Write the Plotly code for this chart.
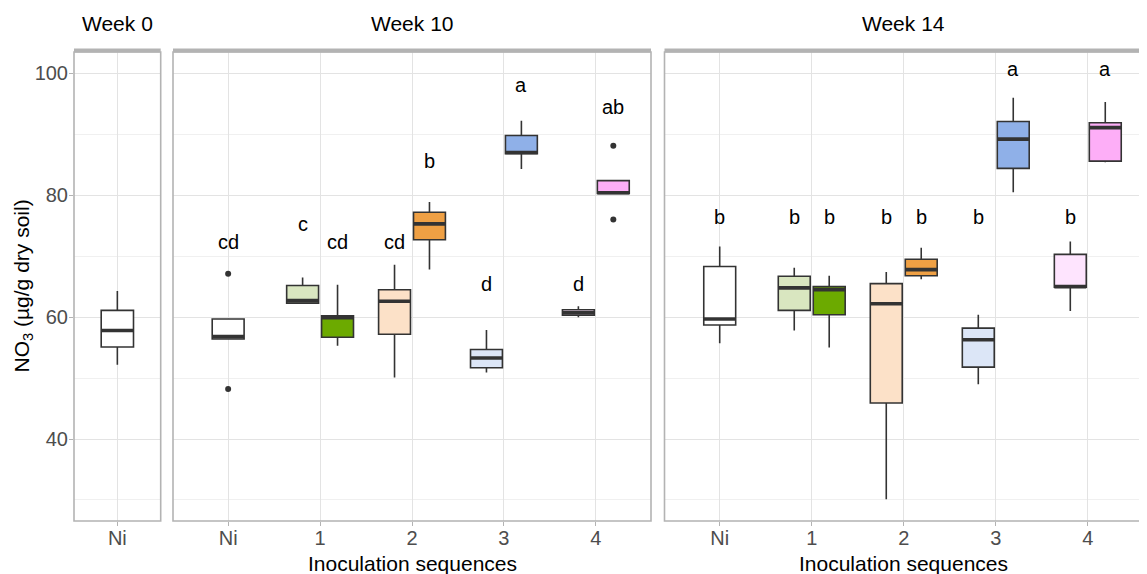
import plotly.graph_objects as go

# ---------------- data ----------------
categories = ["Ni", "1", "2", "3", "4"]
panels = ["Week 0", "Week 10", "Week 14"]

# Week 0 (control only)
w0_ids = ["Ni"]
w0_lower = [52.2]
w0_q1 = [55.1]
w0_med = [57.8]
w0_q3 = [61.1]
w0_upper = [64.3]

# Boxes for weeks 10 and 14: Ni, then two sequences (A light, B dark) per category
box_ids = ["Ni", "1A", "1B", "2A", "2B", "3A", "3B", "4A", "4B"]

w10_lower = [56.4, 62.2, 55.3, 50.1, 67.8, 50.9, 84.3, 60.0, 80.3]
w10_q1 = [56.4, 62.3, 56.7, 57.2, 72.7, 51.7, 86.8, 60.3, 80.3]
w10_med = [56.8, 62.7, 59.9, 62.6, 75.3, 53.3, 87.0, 60.7, 80.4]
w10_q3 = [59.7, 65.2, 60.2, 64.5, 77.2, 54.7, 89.8, 61.2, 82.4]
w10_upper = [59.7, 66.5, 65.3, 68.6, 78.9, 57.9, 92.2, 61.8, 82.4]
w10_out_ids = ["Ni", "Ni", "4B", "4B"]
w10_out_vals = [67.1, 48.2, 88.1, 76.0]
w10_letters = ["cd", "c", "cd", "cd", "b", "d", "a", "d", "ab"]
w10_letter_y = [71.2, 74.1, 71.2, 71.2, 84.5, 64.3, 97.0, 64.3, 93.4]

w14_lower = [55.7, 57.8, 55.0, 30.1, 66.2, 49.0, 80.5, 61.0, 85.4]
w14_q1 = [58.7, 61.1, 60.4, 45.9, 66.8, 51.8, 84.4, 64.9, 85.6]
w14_med = [59.7, 64.8, 64.5, 62.2, 67.8, 56.3, 89.2, 65.0, 91.1]
w14_q3 = [68.3, 66.7, 65.0, 65.5, 69.5, 58.2, 92.1, 70.3, 91.9]
w14_upper = [71.6, 68.1, 66.8, 67.4, 71.4, 60.4, 96.0, 72.4, 95.3]
w14_out_ids = []
w14_out_vals = []
w14_letters = ["b", "b", "b", "b", "b", "b", "a", "b", "a"]
w14_letter_y = [75.2, 75.2, 75.2, 75.2, 75.2, 75.2, 99.6, 75.2, 99.6]

y_ticks = [40, 60, 80, 100]
y_minor = [30, 50, 70, 90]

# ---------------- style ----------------
FONT = "Liberation Sans, Arial, Helvetica, sans-serif"
FILL = {
    "Ni": "#FFFFFF",
    "1A": "#D9E6C0", "1B": "#6CAA00",
    "2A": "#FCE1C8", "2B": "#EFA044",
    "3A": "#DCE6F7", "3B": "#8FB0E8",
    "4A": "#FEE4FE", "4B": "#FDAEF7",
}
DODGE = {"": 0.0, "A": -0.19, "B": 0.19}
LINE = "#333333"
BORDER = "#B3B3B3"
W, H = 1147, 574
OFF = 8.0  # page body margin offset of the figure inside the browser window
PANEL_TOP, PANEL_BOT = 52.0 - OFF, 521.0 - OFF
PANEL_X = [(74.0 - OFF, 160.7 - OFF), (173.0 - OFF, 651.0 - OFF), (664.5 - OFF, 1143.0 - OFF)]
BOX_W = {"x": 0.447, "x2": 0.347, "x3": 0.347}


def pos(bid):
    cat = bid[:-1] if bid[-1] in "AB" else bid
    side = bid[-1] if bid[-1] in "AB" else ""
    return categories.index(cat) + 1 + DODGE[side]


fig = go.Figure()


def add_panel(xa, ya, ids, lo, q1, med, q3, up, out_ids, out_vals, letters, letter_y):
    w = BOX_W[xa]
    for i, bid in enumerate(ids):
        p = pos(bid)
        fig.add_trace(go.Box(
            x=[p], q1=[q1[i]], median=[med[i]], q3=[q3[i]],
            lowerfence=[lo[i]], upperfence=[up[i]],
            width=w, fillcolor=FILL[bid], line=dict(color=LINE, width=1.6),
            whiskerwidth=0, boxpoints=False, xaxis=xa, yaxis=ya,
            showlegend=False, hoverinfo="skip"))
        fig.add_trace(go.Scatter(
            x=[p - w / 2, p + w / 2], y=[med[i], med[i]], mode="lines",
            line=dict(color=LINE, width=3.6), xaxis=xa, yaxis=ya,
            showlegend=False, hoverinfo="skip"))
    if out_vals:
        fig.add_trace(go.Scatter(
            x=[pos(b) for b in out_ids], y=out_vals, mode="markers",
            marker=dict(color=LINE, size=6), xaxis=xa, yaxis=ya,
            showlegend=False, hoverinfo="skip"))
    for i, bid in enumerate(ids):
        if letters and letters[i]:
            fig.add_annotation(
                x=pos(bid), y=letter_y[i], xref=xa, yref=ya, text=letters[i],
                showarrow=False, xanchor="center", yanchor="bottom", yshift=-6,
                font=dict(family=FONT, size=20, color="#000000"))


add_panel("x", "y", w0_ids, w0_lower, w0_q1, w0_med, w0_q3, w0_upper, [], [], None, None)
add_panel("x2", "y2", box_ids, w10_lower, w10_q1, w10_med, w10_q3, w10_upper,
          w10_out_ids, w10_out_vals, w10_letters, w10_letter_y)
add_panel("x3", "y3", box_ids, w14_lower, w14_q1, w14_med, w14_q3, w14_upper,
          w14_out_ids, w14_out_vals, w14_letters, w14_letter_y)

ydom = [(H - PANEL_BOT) / H, (H - PANEL_TOP) / H]
yrange = [26.55, 103.5]

common_x = dict(showgrid=True, gridcolor="#E3E3E3", gridwidth=1, zeroline=False,
                ticks="outside", ticklen=4, tickcolor=BORDER, tickwidth=1,
                tickfont=dict(family=FONT, size=20, color="#4D4D4D"),
                ticklabelstandoff=-5,
                showline=False, fixedrange=True, automargin=False)
n_cat = [1, len(categories), len(categories)]
layout_axes = {}
for k, (xname, yname) in enumerate([("xaxis", "yaxis"), ("xaxis2", "yaxis2"), ("xaxis3", "yaxis3")]):
    x0, x1 = PANEL_X[k]
    cats = categories[:n_cat[k]]
    layout_axes[xname] = dict(common_x, domain=[x0 / W, x1 / W],
                              range=[0.4, len(cats) + 0.6],
                              tickvals=list(range(1, len(cats) + 1)), ticktext=cats,
                              anchor="y" if k == 0 else "y%d" % (k + 1))
    ya = dict(domain=ydom, range=yrange, showgrid=True, gridcolor="#E3E3E3", gridwidth=1,
              zeroline=False, tickvals=y_ticks, showline=False, fixedrange=True,
              automargin=False,
              minor=dict(tickvals=y_minor, showgrid=True, gridcolor="#F0F0F0", gridwidth=1, ticks=""),
              anchor="x" if k == 0 else "x%d" % (k + 1))
    if k == 0:
        ya.update(ticks="outside", ticklen=4, tickcolor=BORDER, ticklabelstandoff=-3,
                  tickfont=dict(family=FONT, size=20, color="#4D4D4D"))
    else:
        ya.update(matches="y", showticklabels=False, ticks="")
    layout_axes[yname] = ya

fig.update_layout(**layout_axes)

shapes = []
for k, xr in enumerate(["x", "x2", "x3"]):
    yr = "y" if k == 0 else "y%d" % (k + 1)
    shapes.append(dict(type="rect", xref=xr + " domain", yref=yr + " domain",
                       x0=0, x1=1, y0=0, y1=1, line=dict(color=BORDER, width=1.6),
                       fillcolor="rgba(0,0,0,0)", layer="above"))
    shapes.append(dict(type="rect", xref=xr + " domain", yref="paper",
                       x0=0, x1=1, y0=(H - (52.5 - OFF)) / H, y1=(H - (48.5 - OFF)) / H,
                       line=dict(width=0), fillcolor=BORDER, layer="above"))
    x0, x1 = PANEL_X[k]
    fig.add_annotation(x=(x0 + x1) / 2 / W, y=(H - (24 - OFF)) / H, xref="paper", yref="paper",
                       text=panels[k], showarrow=False, xanchor="center", yanchor="middle",
                       font=dict(family=FONT, size=21, color="#000000"))
    if k > 0:
        fig.add_annotation(x=(x0 + x1) / 2 / W, y=(H - (563 - OFF)) / H, xref="paper", yref="paper",
                           text="Inoculation sequences", showarrow=False,
                           xanchor="center", yanchor="middle",
                           font=dict(family=FONT, size=21, color="#000000"))

fig.add_annotation(x=(22 - OFF) / W, y=(H - (PANEL_TOP + PANEL_BOT) / 2) / H,
                   xref="paper", yref="paper",
                   text="NO<sub>3</sub> (µg/g dry soil)", textangle=-90, showarrow=False,
                   xanchor="center", yanchor="middle",
                   font=dict(family=FONT, size=21, color="#000000"))

fig.update_layout(shapes=shapes, width=W, height=H,
                  margin=dict(l=0, r=0, t=0, b=0, autoexpand=False),
                  plot_bgcolor="#FFFFFF", paper_bgcolor="#FFFFFF",
                  boxmode="overlay", showlegend=False)

fig.write_html("out.html")
